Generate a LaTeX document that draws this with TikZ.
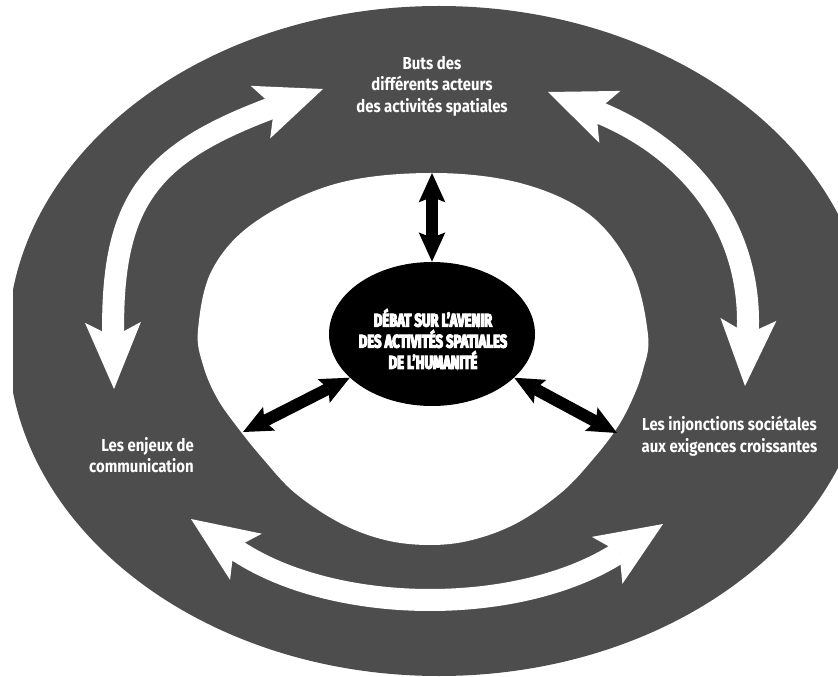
\documentclass[tikz,border=0pt]{standalone}
\usepackage{fontspec}
\setmainfont{Fira Sans}[FakeStretch=0.86]
\newfontfamily\heavyfont{Fira Sans}[FakeStretch=0.71, FakeBold=6]
\usetikzlibrary{arrows.meta,shapes.geometric}
\definecolor{ringgray}{HTML}{4D4D4D}
\tikzset{
  whitetip/.tip={Stealth[length=50pt,width=42pt,inset=11pt,line width=0pt]},
  blacktip/.tip={Stealth[length=22pt,width=20pt,inset=4pt,line width=0pt]},
  whitearrow/.style={draw=white, line width=16.5pt, whitetip-whitetip},
  blackarrow/.style={draw=black, line width=9pt, blacktip-blacktip},
  lbl/.style={text=white, font=\bfseries\fontsize{13}{16.2}\selectfont, align=center, inner sep=0pt},
  centertext/.style={text=white, font=\heavyfont\bfseries\fontsize{13.8}{15.8}\selectfont, align=center, inner sep=0pt},
}
\begin{document}
\begin{tikzpicture}[x=0.75pt,y=-0.75pt]
\useasboundingbox (0,0) rectangle (838,677);
% outer ring
\begin{scope}
  \clip (13,0) rectangle (838,677);
  \fill[ringgray] (439,341) ellipse [x radius=431, y radius=335];
\end{scope}
% inner white area
\fill[white] plot[smooth cycle, tension=0.6] coordinates {
  (430,173) (520,183) (590,215) (632,270) (648,335) (643,370) (632,400)
  (617,428) (594,458) (562,492) (517,523) (472,540) (430,545) (385,540)
  (340,523) (295,493) (264,460) (238,428) (217,398) (203,365) (198,330)
  (212,270) (255,222) (335,184)};
% centre
\node[ellipse, fill=black, minimum width=154.5pt, minimum height=108pt, inner sep=0pt] (c) at (432,334) {};
\node[centertext] (ct) at (433,339) {DÉBAT SUR L’AVENIR\\DES ACTIVITÉS SPATIALES\\DE L’HUMANITÉ};
% labels
\node[lbl] (buts) at (432,86) {Buts des\\différents acteurs\\des activités spatiales};
\node[lbl] (inj) at (729.5,436) {Les injonctions sociétales\\aux exigences croissantes};
\node[lbl, align=right, anchor=east] (enj) at (194,455) {Les enjeux de\\communication};
% black arrows
\coordinate (bt) at (432,173);
\coordinate (bl) at (243,432);
\coordinate (br) at (617,433);
\draw[blackarrow] (c.north) -- (bt);
\draw[blackarrow] (c.208) -- (bl);
\draw[blackarrow] (c.-28) -- (br);
% white curved arrows
\coordinate (ulA) at (114,389);
\coordinate (ulB) at (323,89);
\coordinate (urA) at (548,92);
\coordinate (urB) at (745,386);
\coordinate (boA) at (191,519);
\coordinate (boB) at (663,524);
\draw[whitearrow] (ulA) .. controls (111,200) and (150,153) .. (ulB);
\draw[whitearrow] (urA) .. controls (692,150) and (753,231) .. (urB);
\draw[whitearrow] (boA) .. controls (332,616) and (520,617) .. (boB);
\end{tikzpicture}
\end{document}
